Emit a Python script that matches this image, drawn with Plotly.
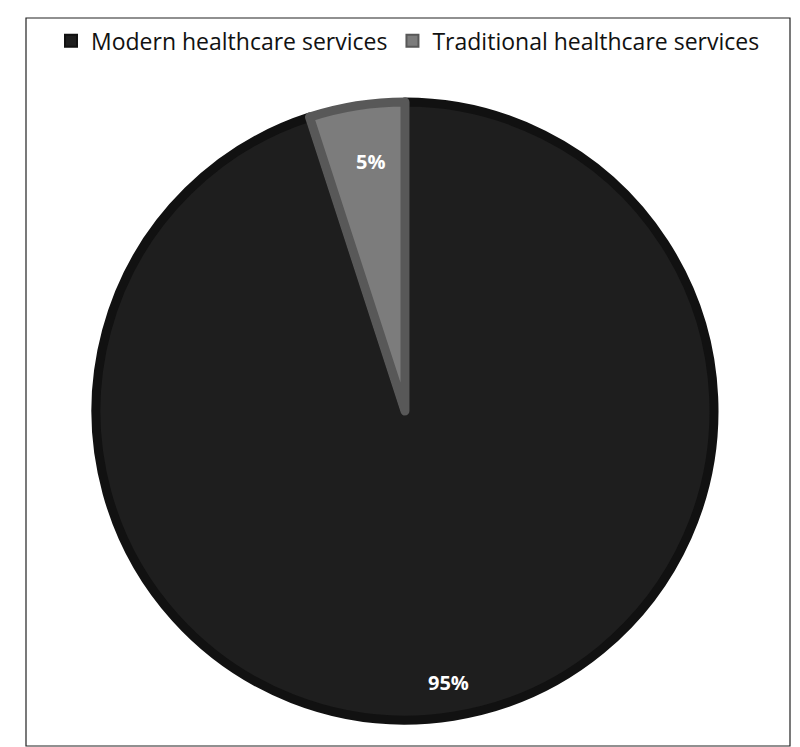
import plotly.graph_objects as go

labels = ["Modern healthcare services", "Traditional healthcare services"]
values = [95, 5]
texts = ["95%", "5%"]
fills = ["#1e1e1e", "#7c7c7c"]
edges = ["#111111", "#585858"]

W, H = 800, 747
fig = go.Figure(go.Pie(
    labels=labels, values=values, sort=False, direction="clockwise", rotation=0,
    marker=dict(colors=fills, line=dict(color=edges, width=9)),
    textinfo="none", hoverinfo="label+percent",
    domain=dict(x=[88 / W, 706 / W], y=[1 - 712 / H, 1 - 94 / H]),
))
def px(x, y):
    return x / W, 1 - y / H
for t, (x, y) in zip(texts, [(440, 690), (362, 138)]):
    ax, ay = px(x, y)
    fig.add_annotation(x=ax, y=ay, xref="paper", yref="paper", text="<b>%s</b>" % t,
                       showarrow=False, font=dict(color="white", size=20, family="Open Sans"))
x0, y0 = px(18, 10)
x1, y1 = px(782, 738)
fig.add_shape(type="rect", xref="paper", yref="paper", x0=x0, y0=y1, x1=x1, y1=y0,
              line=dict(color="#222", width=1.2))
fig.update_layout(
    width=W, height=H, margin=dict(l=0, r=0, t=0, b=0),
    paper_bgcolor="white", plot_bgcolor="white",
    legend=dict(orientation="h", x=0.5, xanchor="center", y=0.985, yanchor="top",
                font=dict(size=23, family="Open Sans", color="#111"), itemsizing="constant",
                itemwidth=30, traceorder="normal"),
)
fig.write_html("out.html")
